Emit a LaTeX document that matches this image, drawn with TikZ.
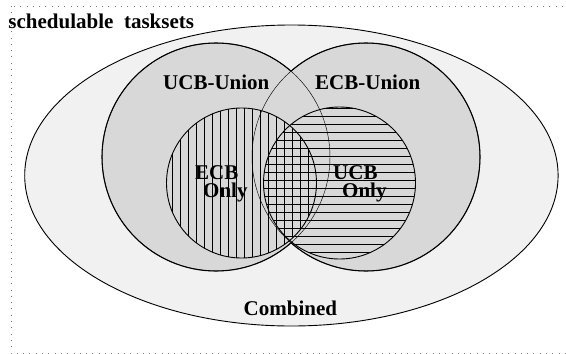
\documentclass[tikz,border=0pt]{standalone}
\usepackage{fontspec}
\setmainfont{Liberation Serif}
\definecolor{outerfill}{RGB}{241,241,241}
\definecolor{unionfill}{RGB}{216,216,216}
\definecolor{framegray}{RGB}{120,120,120}
\tikzset{
  lbl/.style={font=\fontsize{21}{24}\selectfont\bfseries, inner sep=0pt, anchor=base west},
  hatchline/.style={line width=0.9pt, black},
  thickedge/.style={line width=1.1pt, black},
  thinedge/.style={line width=0.45pt, black},
}
\begin{document}
\begin{tikzpicture}[x=1pt,y=-1pt]
\useasboundingbox (0,0) rectangle (566,354);
% frame
\draw[framegray, line width=1pt, dash pattern=on 1pt off 5.3pt] (11,6) rectangle (570,353);
% outer ellipse
\filldraw[fill=outerfill, draw=black, line width=0.9pt] (291.4,175.5) ellipse [x radius=266.7pt, y radius=150.5pt];
% union circles
\fill[unionfill] (216,157) circle [radius=114pt];
\fill[unionfill] (366,157) circle [radius=114pt];
% hatching
\begin{scope}
  \clip (241.5,183) circle [radius=75pt];
  \foreach \k in {0,...,20} { \draw[hatchline] (164+8*\k,100) -- (164+8*\k,265); }
\end{scope}
\begin{scope}
  \clip (339.5,183) circle [radius=76pt];
  \foreach \k in {0,...,20} { \draw[hatchline] (255,108.7+8*\k) -- (425,108.7+8*\k); }
\end{scope}
\draw[line width=0.9pt] (241.5,183) circle [radius=75pt];
\draw[line width=0.9pt] (339.5,183) circle [radius=76pt];
% thin full circles
\draw[thinedge] (216,157) circle [radius=114pt];
\draw[thinedge] (366,157) circle [radius=114pt];
% thick outer boundary
\begin{scope}[even odd rule]
  \clip (0,0) rectangle (566,354) (366,157) circle [radius=114pt];
  \draw[thickedge] (216,157) circle [radius=114pt];
\end{scope}
\begin{scope}[even odd rule]
  \clip (0,0) rectangle (566,354) (216,157) circle [radius=114pt];
  \draw[thickedge] (366,157) circle [radius=114pt];
\end{scope}
% labels
\node[lbl] (title) at (8.3,28) {schedulable\ \ tasksets};
\node[lbl] (ucbu) at (163,89) {UCB-Union};
\node[lbl] (ecbu) at (315,89) {ECB-Union};
\node[lbl] (ecb) at (195,179.5) {ECB};
\node[lbl] (ecbo) at (203,197) {Only};
\node[lbl] (ucb) at (333,179.5) {UCB};
\node[lbl] (ucbo) at (342,197) {Only};
\node[lbl] (comb) at (243.5,315.7) {Combined};
\end{tikzpicture}
\end{document}
